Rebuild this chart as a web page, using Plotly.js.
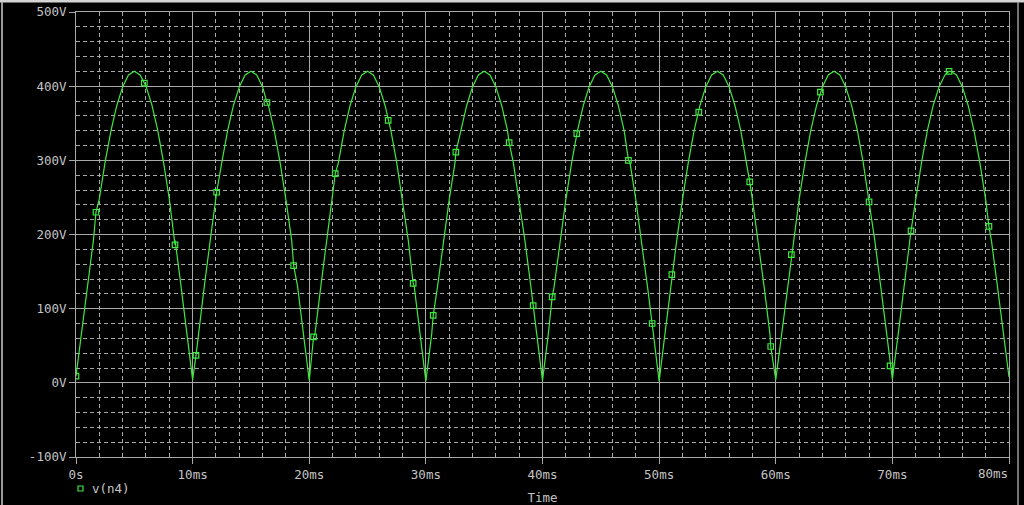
<!DOCTYPE html>
<html>
<head>
<meta charset="utf-8">
<script src="https://cdn.plot.ly/plotly-3.0.1.min.js"></script>
<style>html,body{margin:0;padding:0;background:#000;}#chart{width:1024px;height:505px;}</style>
</head>
<body>
<div id="chart"></div>
<script>
// Time axis (ms) of the traced waveform v(n4)
var timeMs = [0,0.5,1,1.5,2,2.5,3,3.5,4,4.5,5,5.5,6,6.5,7,7.5,8,8.5,9,9.5,
  10,10.5,11,11.5,12,12.5,13,13.5,14,14.5,15,15.5,16,16.5,17,17.5,18,18.5,19,19.5,
  20,20.5,21,21.5,22,22.5,23,23.5,24,24.5,25,25.5,26,26.5,27,27.5,28,28.5,29,29.5,
  30,30.5,31,31.5,32,32.5,33,33.5,34,34.5,35,35.5,36,36.5,37,37.5,38,38.5,39,39.5,
  40,40.5,41,41.5,42,42.5,43,43.5,44,44.5,45,45.5,46,46.5,47,47.5,48,48.5,49,49.5,
  50,50.5,51,51.5,52,52.5,53,53.5,54,54.5,55,55.5,56,56.5,57,57.5,58,58.5,59,59.5,
  60,60.5,61,61.5,62,62.5,63,63.5,64,64.5,65,65.5,66,66.5,67,67.5,68,68.5,69,69.5,
  70,70.5,71,71.5,72,72.5,73,73.5,74,74.5,75,75.5,76,76.5,77,77.5,78,78.5,79,79.5,80];
// Voltage values (V)
var voltsV = [9,70,132,193,248,298,340,374,399,415,420,415,400,375,341,298,248,192,131,67,
  4,66,130,191,247,297,340,374,399,415,420,415,399,374,340,297,247,191,130,66,
  3,67,131,191,247,297,340,374,399,415,420,415,399,374,340,297,247,191,130,66,
  2,66,130,191,247,297,340,374,399,415,420,415,399,374,340,297,247,191,130,66,
  3,66,130,191,247,297,340,374,399,415,420,415,399,374,340,297,247,191,130,66,
  2,66,130,191,247,297,340,374,399,415,420,415,399,374,340,297,247,191,130,66,
  4,66,130,191,247,297,340,374,399,415,420,415,399,374,340,297,247,191,130,66,
  5,66,130,191,247,297,340,374,399,415,420,415,399,374,340,297,247,191,131,67,8];
// Marker (symbol) points on the trace
var markT = [0.0,1.71,5.86,8.49,10.29,12.06,16.37,18.66,20.37,22.23,26.77,28.91,30.63,32.57,37.14,39.2,
  40.83,42.94,47.37,49.4,51.09,53.4,57.77,59.57,61.34,63.83,68.0,69.8,71.6,74.86,78.28];
var markV = [9,230,404,186,37,257,378,158,62,282,354,134,91,311,324,104,
  116,336,300,80,146,365,271,49,173,392,244,23,205,420,211];
// Tick labels (the last x label is drawn right-aligned at the axis end)
var xTickVals = [0,10,20,30,40,50,60,70,80];
var xTickText = ["0s","10ms","20ms","30ms","40ms","50ms","60ms","70ms",""];
var xEndVal = 80;
var xEndText = "80ms";
var yTickVals = [-100,0,100,200,300,400,500];
var yTickText = ["-100V","0V","100V","200V","300V","400V","500V"];
var seriesName = "v(n4)";
var xTitle = "Time";

// merge marker points into the line so the symbols sit on the trace
var pts = [];
for (var i = 0; i < timeMs.length; i++) pts.push([timeMs[i], voltsV[i]]);
for (var j = 0; j < markT.length; j++) pts.push([markT[j], markV[j]]);
pts.sort(function(a,b){return a[0]-b[0];});
var lineX = pts.map(function(p){return p[0];});
var lineY = pts.map(function(p){return p[1];});

var green = '#3ee83e';
var gridCol = '#a8a8a8';
var fontMono = {family: 'DejaVu Sans Mono, Liberation Mono, monospace', size: 12.5, color: '#c4c4c4'};

var traces = [
  {x: lineX, y: lineY, mode: 'lines', line: {color: green, width: 1.2}, showlegend: false, hoverinfo: 'skip', name: seriesName},
  {x: markT, y: markV, mode: 'markers', name: seriesName, showlegend: false,
   marker: {symbol: 'square-open', size: 5.5, color: green, line: {width: 1.2, color: green}}}
];

function px2x(px){return (px-76)/933;}
function py2y(py){return (457-py)/445;}

var layout = {
  width: 1024, height: 505,
  margin: {l: 76, r: 15, t: 12, b: 48},
  paper_bgcolor: '#000', plot_bgcolor: '#000',
  font: fontMono,
  showlegend: false,
  xaxis: {range: [0, 80], tickvals: xTickVals, ticktext: xTickText, tickfont: fontMono,
          ticks: 'outside', ticklen: 6, tickcolor: gridCol, tickwidth: 1,
          showgrid: true, gridcolor: gridCol, gridwidth: 1,
          minor: {dtick: 2, showgrid: true, gridcolor: gridCol, griddash: '4px,3px', gridwidth: 1},
          showline: true, linecolor: gridCol, linewidth: 1, mirror: true, zeroline: false,
          title: {text: xTitle, font: fontMono, standoff: 24}, automargin: false},
  yaxis: {range: [-100, 500], tickvals: yTickVals, ticktext: yTickText, tickfont: fontMono,
          ticks: 'outside', ticklen: 6, tickcolor: gridCol, tickwidth: 1,
          showgrid: true, gridcolor: gridCol, gridwidth: 1,
          minor: {dtick: 20, showgrid: true, gridcolor: gridCol, griddash: '4px,3px', gridwidth: 1},
          showline: true, linecolor: gridCol, linewidth: 1, mirror: true, zeroline: false, automargin: false},
  annotations: [
    {xref: 'x', yref: 'paper', x: xEndVal, y: py2y(473.5), xanchor: 'right', yanchor: 'middle',
     text: xEndText, showarrow: false, font: fontMono, xshift: 1},
    {xref: 'paper', yref: 'paper', x: px2x(90), y: py2y(488), xanchor: 'left', yanchor: 'middle',
     text: seriesName, showarrow: false, font: fontMono}
  ],
  shapes: [
    // legend symbol
    {type: 'rect', xref: 'paper', yref: 'paper', x0: px2x(78), x1: px2x(83), y0: py2y(491), y1: py2y(486),
     fillcolor: 'rgba(0,0,0,0)', line: {color: green, width: 1.2}},
    // window frame
    {type: 'rect', xref: 'paper', yref: 'paper', x0: px2x(0), x1: px2x(1024), y0: py2y(2.5), y1: py2y(0),
     fillcolor: '#d4d4d4', line: {width: 0}, layer: 'above'},
    {type: 'line', xref: 'paper', yref: 'paper', x0: px2x(2), x1: px2x(2), y0: py2y(505), y1: py2y(2),
     line: {color: '#9a9a9a', width: 2}},
    {type: 'line', xref: 'paper', yref: 'paper', x0: px2x(1018), x1: px2x(1018), y0: py2y(505), y1: py2y(2),
     line: {color: '#9a9a9a', width: 1.5}}
  ]
};

Plotly.newPlot('chart', traces, layout, {displayModeBar: false, staticPlot: true});
</script>
</body>
</html>
